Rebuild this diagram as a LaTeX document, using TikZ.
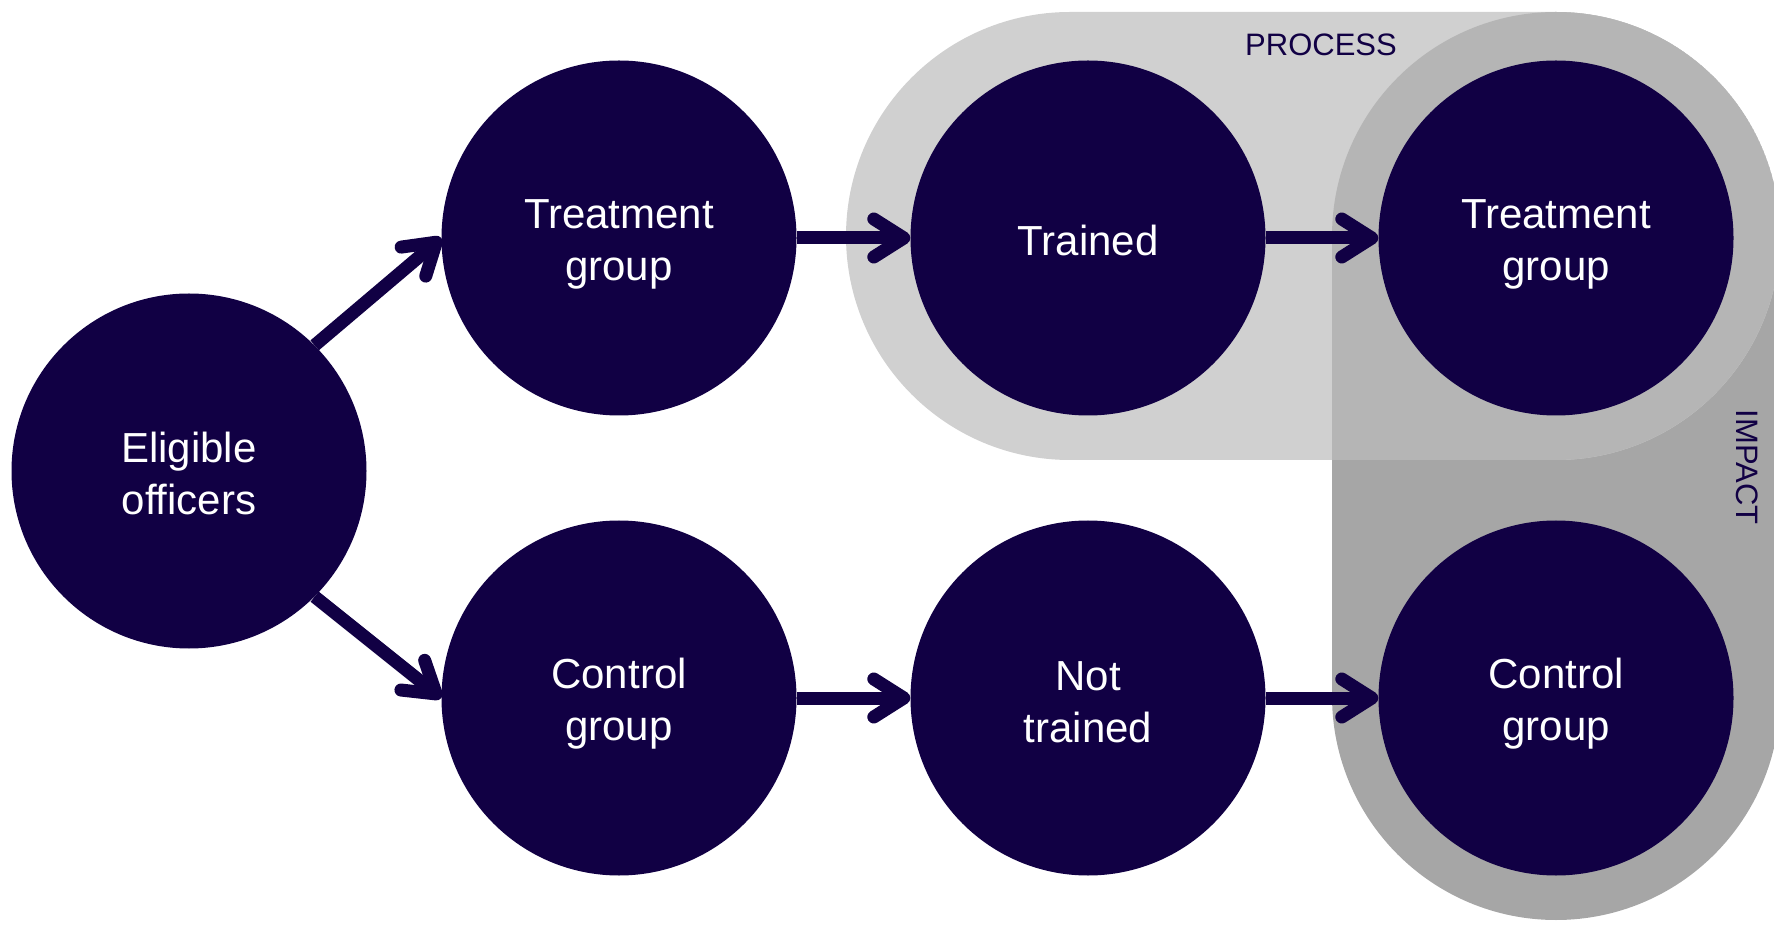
\documentclass[tikz,border=0pt]{standalone}
\usepackage{fontspec}
\setmainfont{Liberation Sans}
\usetikzlibrary{arrows.meta}
\definecolor{navy}{HTML}{110044}
\definecolor{procgrey}{HTML}{D0D0D0}
\definecolor{impgrey}{HTML}{A6A6A6}
\definecolor{bothgrey}{HTML}{B5B5B5}
% fixed line box so every label is centred alike
\newcommand\vstrut{\rule[-6pt]{0pt}{48pt}}
\begin{document}
\begin{tikzpicture}[x=1pt,y=1pt,
  stage/.style={circle, fill=navy, draw=none, minimum size=355pt, inner sep=0pt,
    text=white, align=center, font=\fontsize{42}{52}\selectfont},
  flow/.style={draw=navy, line width=13pt,
    -{Straight Barb[length=30pt, width=38pt, round]}},
  zonelabel/.style={text=navy, font=\fontsize{31}{36}\selectfont, inner sep=0pt}]
\useasboundingbox (0,0) rectangle (1774,927);

% the two zones: IMPACT (vertical) and PROCESS (horizontal)
\def\impactpath{(1332,691) arc[start angle=180, end angle=0, radius=224]
  -- (1780,231) arc[start angle=0, end angle=-180, radius=224] -- cycle}
\def\processpath{(1070,915) -- (1556,915) arc[start angle=90, end angle=-90, radius=224]
  -- (1070,467) arc[start angle=270, end angle=90, radius=224] -- cycle}
\fill[impgrey] \impactpath;
\fill[procgrey] \processpath;
\begin{scope}
  \clip \impactpath;
  \fill[bothgrey] \processpath;
\end{scope}

\node[zonelabel] (proc) at (1321,882) {PROCESS};
\node[zonelabel, rotate=-90] (imp) at (1747,460) {IMPACT};

% stages
\node[stage] (elig) at (189,456) {\vstrut Eligible\\\vstrut officers};
\node[stage] (tg)   at (619,689) {\vstrut Treatment\\\vstrut group};
\node[stage] (cg)   at (619,229) {\vstrut Control\\\vstrut group};
\node[stage] (tr)   at (1088,689) {\vstrut Trained};
\node[stage] (nt)   at (1088,229) {\vstrut Not\\\vstrut trained};
\node[stage] (tg2)  at (1556,689) {\vstrut Treatment\\\vstrut group};
\node[stage] (cg2)  at (1556,229) {\vstrut Control\\\vstrut group};

% connectors
\draw[flow] (elig.45) -- (tg.west);
\draw[flow] (elig.-45) -- (cg.west);
\draw[flow] (tg.east) -- (tr.west);
\draw[flow] (tr.east) -- (tg2.west);
\draw[flow] (cg.east) -- (nt.west);
\draw[flow] (nt.east) -- (cg2.west);
\end{tikzpicture}
\end{document}
